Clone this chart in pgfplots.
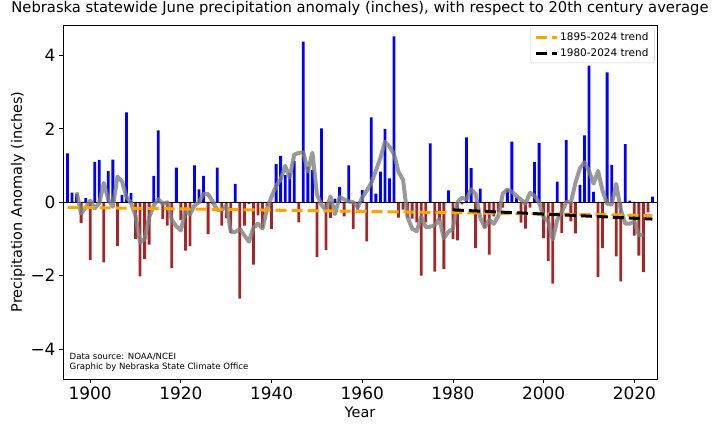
\documentclass[border=0pt]{standalone}
\usepackage{pgfplots}
\pgfplotsset{compat=1.18}
\usepackage{pgfplotstable}
\usepackage{fontspec}
\setmainfont{DejaVu Sans}
\definecolor{barblue}{RGB}{0,0,255}
\definecolor{barbrown}{RGB}{165,38,38}
\definecolor{trendorange}{RGB}{255,165,0}

\pgfplotstableread{
year val
1895 1.33
1896 0.26
1897 0.22
1898 -0.57
1899 0.11
1900 -1.57
1901 1.10
1902 1.15
1903 -1.64
1904 0.85
1905 1.16
1906 -1.19
1907 0.20
1908 2.45
1909 0.25
1910 -1.00
1911 -2.02
1912 -1.55
1913 -1.16
1914 0.72
1915 1.96
1916 -0.46
1917 -0.64
1918 -1.80
1919 0.94
1920 -0.48
1921 -1.32
1922 -1.20
1923 1.00
1924 0.35
1925 0.72
1926 -0.87
1927 -0.05
1928 0.94
1929 -0.64
1930 -0.43
1931 -0.84
1932 0.50
1933 -2.63
1934 -0.64
1935 -0.05
1936 -1.70
1937 -0.36
1938 -0.71
1939 -0.10
1940 -0.73
1941 1.04
1942 1.26
1943 0.74
1944 0.80
1945 1.12
1946 -0.55
1947 4.38
1948 0.97
1949 0.88
1950 -1.50
1951 2.01
1952 -1.31
1953 -0.43
1954 0.10
1955 0.41
1956 -0.39
1957 1.00
1958 -0.73
1959 -0.20
1960 0.33
1961 -1.07
1962 2.31
1963 0.23
1964 0.83
1965 2.00
1966 0.65
1967 4.52
1968 -0.42
1969 -0.20
1970 -0.42
1971 -0.45
1972 -0.55
1973 -2.00
1974 -0.55
1975 1.60
1976 -1.89
1977 -0.50
1978 -1.82
1979 0.32
1980 -1.00
1981 -1.04
1982 -0.06
1983 1.77
1984 0.93
1985 -1.25
1986 0.37
1987 -0.71
1988 -1.43
1989 -0.39
1990 -0.27
1991 -0.15
1992 0.35
1993 1.65
1994 0.13
1995 -0.56
1996 -0.72
1997 -0.15
1998 1.09
1999 1.62
2000 -0.98
2001 -1.60
2002 -2.22
2003 0.56
2004 -0.84
2005 1.69
2006 -0.52
2007 -0.85
2008 0.47
2009 1.82
2010 3.72
2011 0.28
2012 -2.04
2013 -1.25
2014 3.54
2015 1.02
2016 -1.48
2017 -2.16
2018 1.58
2019 0.04
2020 -0.91
2021 -1.46
2022 -1.91
2023 -0.28
2024 0.15
}\anom

\pgfplotstableread{
year ma
1897 0.270
1898 -0.310
1899 -0.142
1900 0.044
1901 -0.170
1902 -0.022
1903 0.524
1904 0.066
1905 -0.124
1906 0.694
1907 0.574
1908 0.142
1909 -0.024
1910 -0.374
1911 -1.096
1912 -1.002
1913 -0.410
1914 -0.098
1915 0.084
1916 -0.044
1917 0.000
1918 -0.488
1919 -0.660
1920 -0.772
1921 -0.212
1922 -0.330
1923 -0.090
1924 0.000
1925 0.230
1926 0.218
1927 0.020
1928 -0.210
1929 -0.204
1930 -0.094
1931 -0.808
1932 -0.808
1933 -0.732
1934 -0.904
1935 -1.076
1936 -0.692
1937 -0.584
1938 -0.720
1939 -0.172
1940 0.152
1941 0.442
1942 0.622
1943 0.992
1944 0.674
1945 1.298
1946 1.344
1947 1.360
1948 0.836
1949 1.348
1950 0.210
1951 -0.070
1952 -0.226
1953 0.156
1954 -0.324
1955 0.138
1956 0.078
1957 0.018
1958 0.002
1959 -0.134
1960 0.128
1961 0.320
1962 0.526
1963 0.860
1964 1.204
1965 1.646
1966 1.516
1967 1.310
1968 0.826
1969 0.606
1970 -0.408
1971 -0.724
1972 -0.794
1973 -0.390
1974 -0.678
1975 -0.668
1976 -0.632
1977 -0.458
1978 -0.978
1979 -0.808
1980 -0.720
1981 -0.002
1982 0.120
1983 0.070
1984 0.352
1985 0.222
1986 -0.418
1987 -0.682
1988 -0.486
1989 -0.590
1990 -0.378
1991 0.238
1992 0.342
1993 0.284
1994 0.170
1995 0.070
1996 -0.042
1997 0.256
1998 0.172
1999 -0.004
2000 -0.418
2001 -0.524
2002 -1.016
2003 -0.482
2004 -0.266
2005 0.008
2006 -0.010
2007 0.522
2008 0.928
2009 1.088
2010 0.850
2011 0.506
2012 0.850
2013 0.310
2014 -0.042
2015 -0.066
2016 0.500
2017 -0.200
2018 -0.586
2019 -0.582
2020 -0.532
2021 -0.904
2022 -0.882
}\smooth

\begin{document}
\begin{tikzpicture}
\useasboundingbox (0,0) rectangle (720bp,430bp);
\begin{axis}[
  at={(63bp,51bp)}, anchor=south west,
  scale only axis, width=594bp, height=354bp,
  xmin=1894, xmax=2025, ymin=-4.82, ymax=4.83,
  axis line style={black, line width=0.9bp},
  tick pos=left, tick align=outside,
  major tick length=4bp,
  tick style={black, line width=0.8bp},
  xtick={1900,1920,1940,1960,1980,2000,2020},
  xticklabels={1900,1920,1940,1960,1980,2000,2020},
  ytick={-4,-2,0,2,4},
  yticklabels={−4,−2,0,2,4},
  tick label style={font=\fontsize{17}{19}\selectfont},
  title={Nebraska statewide June precipitation anomaly (inches), with respect to 20th century average},
  title style={font=\fontsize{14.8}{16}\selectfont, at={(axis description cs:0.5,1)}, anchor=south, yshift=3bp, inner sep=0pt},
  xlabel={Year},
  xlabel style={font=\fontsize{14.5}{16}\selectfont, at={(axis description cs:0.5,-0.093)}, anchor=center},
  ylabel={Precipitation Anomaly (inches)},
  ylabel style={font=\fontsize{14.5}{16}\selectfont, at={(axis description cs:-0.076,0.5)}, anchor=center, rotate=0},
  legend style={at={(axis description cs:0.996,0.992)}, anchor=north east,
    font=\fontsize{10.5}{12}\selectfont, draw=black!20, rounded corners=2bp,
    fill=white, fill opacity=0.8, text opacity=1, inner xsep=4bp, inner ysep=3bp, row sep=2bp},
  legend cell align=left,
  legend image code/.code={\draw[#1] (0bp,0bp) -- (21bp,0bp);},
]
\addplot[ybar, bar width=0.62, bar shift=0pt, fill=barblue, draw=none, forget plot,
  restrict y to domain=0:10] table[x=year, y=val] {\anom};
\addplot[ybar, bar width=0.62, bar shift=0pt, fill=barbrown, draw=none, forget plot,
  restrict y to domain=-10:0] table[x=year, y=val] {\anom};
\addplot[black, line width=1bp, forget plot] coordinates {(1894,0) (2025,0)};
\addplot[gray, opacity=0.8, line width=4bp, line join=round, forget plot] table[x=year, y=ma] {\smooth};
\addplot[trendorange, line width=3bp, dash pattern=on 11bp off 5bp] coordinates {(1895,-0.14) (2024,-0.36)};
\addlegendentry{1895-2024 trend}
\addplot[black, line width=3bp, dash pattern=on 11bp off 5bp] coordinates {(1980,-0.21) (2024,-0.46)};
\addlegendentry{1980-2024 trend}
\node[anchor=south west, align=left, inner sep=0pt, font=\fontsize{8.6}{10.5}\selectfont]
  at (axis description cs:0.011,0.02) {Data source: NOAA/NCEI\\Graphic by Nebraska State Climate Office};
\end{axis}
\end{tikzpicture}
\end{document}
